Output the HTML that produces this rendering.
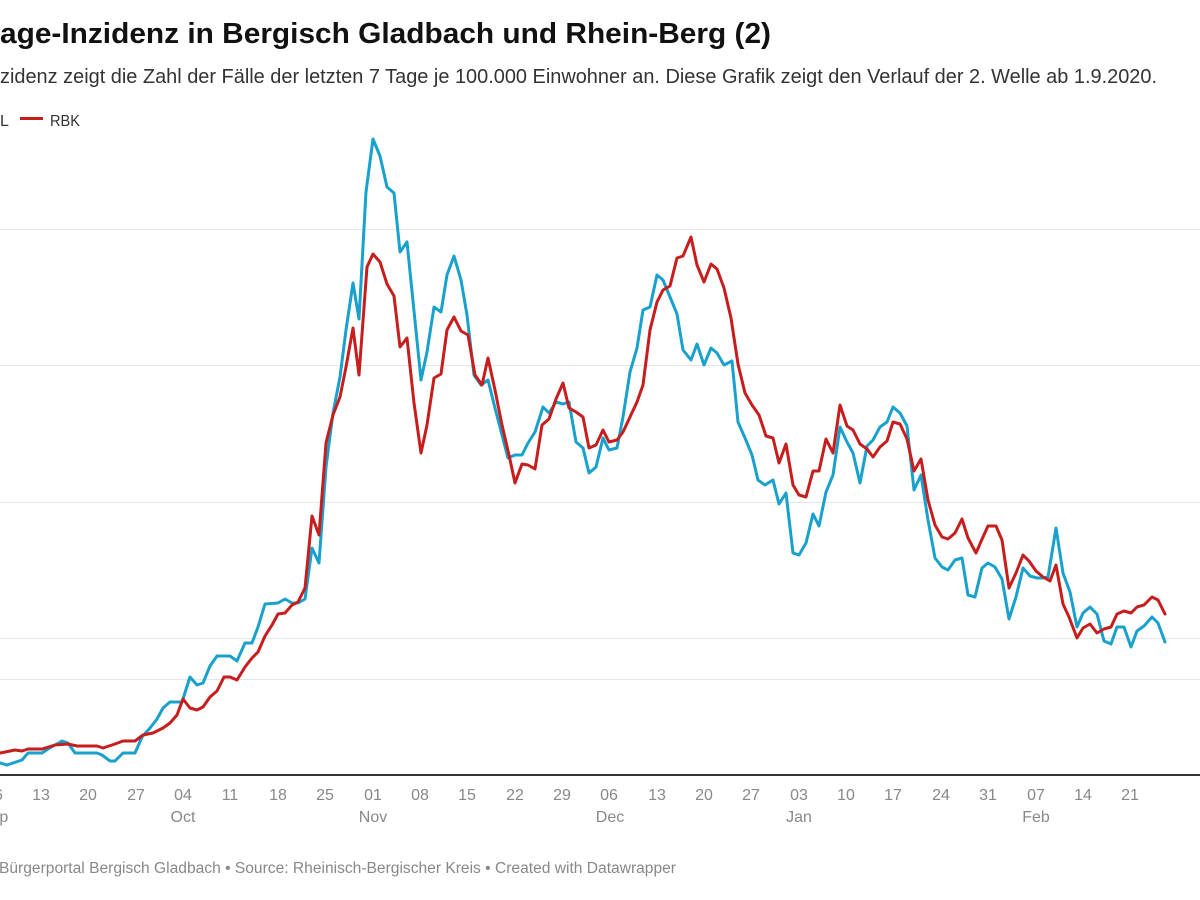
<!DOCTYPE html>
<html>
<head>
<meta charset="utf-8">
<style>
html,body{margin:0;padding:0;background:#fff;}
body{width:1200px;height:900px;overflow:hidden;}
svg{display:block;}
text{font-family:"Liberation Sans",Arial,sans-serif;}
</style>
</head>
<body>
<svg width="1200" height="900" viewBox="0 0 1200 900" xmlns="http://www.w3.org/2000/svg">
<rect x="0" y="0" width="1200" height="900" fill="#fff"/>
<!-- Title -->
<text x="0" y="43" font-size="29" font-weight="bold" fill="#111" textLength="771" lengthAdjust="spacingAndGlyphs">age-Inzidenz in Bergisch Gladbach und Rhein-Berg (2)</text>
<text x="0" y="83" font-size="20" fill="#333" textLength="1157" lengthAdjust="spacingAndGlyphs">zidenz zeigt die Zahl der Fälle der letzten 7 Tage je 100.000 Einwohner an. Diese Grafik zeigt den Verlauf der 2. Welle ab 1.9.2020.</text>
<!-- Legend -->
<text x="0" y="126" font-size="16" fill="#333">L</text>
<line x1="20" y1="118.5" x2="43" y2="118.5" stroke="#c71e1d" stroke-width="3"/>
<text x="50" y="126" font-size="16" fill="#333" textLength="30" lengthAdjust="spacingAndGlyphs">RBK</text>
<!-- Grid -->
<g stroke="#e5e5e5" stroke-width="1">
<line x1="0" y1="229.5" x2="1200" y2="229.5"/>
<line x1="0" y1="365.5" x2="1200" y2="365.5"/>
<line x1="0" y1="502.5" x2="1200" y2="502.5"/>
<line x1="0" y1="638.5" x2="1200" y2="638.5"/>
<line x1="0" y1="679.5" x2="1200" y2="679.5"/>
</g>
<!-- Series -->
<polyline fill="none" stroke="#18a1cd" stroke-width="3" stroke-linejoin="round" stroke-linecap="round" points="-7,764 0,763 7,765 22,760 28,753 42,753 48,749 62,741 68,743 75,753 97,753 102,755 110,761 115,761 123,753 135,753 142,737 150,728 157,719 163,708 170,702 182,702 190,677 197,685 203,683 210,666 217,656 230,656 237,661 245,643 252,643 258,627 265,604 278,603 285,599 292,603 298,603 305,599 312,548 319,563 326,467 333,413 340,377 346,330 353,283 359,319 366,192 373,139 380,156 387,187 394,193 400,252 407,242 414,311 421,380 427,352 434,307 441,312 447,275 454,256 461,280 467,315 474,375 481,385 488,380 495,408 502,435 508,458 515,455 522,455 528,443 535,432 543,407 549,413 556,402 563,404 569,402 576,442 583,448 589,473 596,467 603,438 609,450 617,448 623,417 630,372 637,348 643,310 650,307 657,275 663,280 670,297 677,314 683,350 691,360 697,344 704,365 711,348 717,353 724,365 732,361 738,422 745,438 752,455 758,480 765,485 773,480 779,504 786,493 793,553 799,555 806,543 813,514 819,526 826,492 833,475 840,427 847,442 853,453 860,483 867,446 873,440 880,427 887,422 893,407 900,413 907,426 914,490 921,475 928,520 935,558 942,567 948,570 955,560 962,558 968,595 975,597 982,568 988,563 995,567 1002,579 1009,619 1016,597 1023,568 1030,576 1037,578 1043,578 1048,577 1056,528 1063,573 1070,592 1077,627 1083,613 1090,607 1097,614 1104,641 1111,644 1117,627 1124,627 1131,647 1137,631 1144,626 1152,617 1158,623 1165,642"/>
<polyline fill="none" stroke="#c71e1d" stroke-width="3" stroke-linejoin="round" stroke-linecap="round" points="-7,755 0,753 15,750 22,751 28,749 42,749 55,745 68,744 77,746 97,746 103,748 115,744 123,741 135,741 143,735 153,733 163,728 170,723 177,715 183,699 190,708 197,710 203,707 210,697 217,691 224,677 230,677 237,680 245,667 252,658 258,652 265,636 272,625 278,614 285,613 292,605 298,602 305,588 312,516 319,535 326,443 333,415 340,397 346,367 353,328 359,375 367,267 373,254 380,262 387,284 394,296 400,347 407,338 414,403 421,453 427,425 434,378 441,374 447,330 454,317 461,331 468,335 475,375 482,385 488,358 495,390 502,425 509,455 515,483 522,464 528,465 535,469 542,425 549,419 556,399 563,383 569,408 576,412 583,417 589,448 596,445 603,430 609,442 617,440 623,432 630,417 637,402 643,385 650,330 657,302 663,290 670,286 677,258 683,256 691,237 697,265 704,282 711,264 717,269 724,288 731,318 738,364 745,393 752,405 759,415 766,436 773,438 779,463 786,444 793,485 799,495 806,497 813,471 819,471 826,439 833,453 840,405 847,426 853,430 860,444 867,449 873,457 880,447 887,441 893,422 900,424 907,439 914,471 921,459 928,500 935,525 942,537 948,539 955,533 962,519 968,538 976,553 983,537 988,526 996,526 1002,540 1009,588 1016,573 1023,555 1029,561 1036,571 1043,577 1050,581 1056,565 1063,604 1069,617 1077,638 1083,628 1090,624 1097,633 1104,629 1111,627 1117,614 1124,611 1131,613 1137,607 1144,605 1152,597 1158,600 1165,614"/>
<!-- Axis -->
<line x1="0" y1="775" x2="1200" y2="775" stroke="#333" stroke-width="2"/>
<g font-size="16" fill="#888" text-anchor="middle">
<text x="-6" y="800">06</text>
<text x="41" y="800">13</text>
<text x="88" y="800">20</text>
<text x="136" y="800">27</text>
<text x="183" y="800">04</text>
<text x="230" y="800">11</text>
<text x="278" y="800">18</text>
<text x="325" y="800">25</text>
<text x="373" y="800">01</text>
<text x="420" y="800">08</text>
<text x="467" y="800">15</text>
<text x="515" y="800">22</text>
<text x="562" y="800">29</text>
<text x="609" y="800">06</text>
<text x="657" y="800">13</text>
<text x="704" y="800">20</text>
<text x="751" y="800">27</text>
<text x="799" y="800">03</text>
<text x="846" y="800">10</text>
<text x="893" y="800">17</text>
<text x="941" y="800">24</text>
<text x="988" y="800">31</text>
<text x="1036" y="800">07</text>
<text x="1083" y="800">14</text>
<text x="1130" y="800">21</text>
<text x="-6" y="822">Sep</text>
<text x="183" y="822">Oct</text>
<text x="373" y="822">Nov</text>
<text x="610" y="822">Dec</text>
<text x="799" y="822">Jan</text>
<text x="1036" y="822">Feb</text>
</g>
<!-- Footer -->
<text x="-1" y="873" font-size="15.5" fill="#888" textLength="677" lengthAdjust="spacingAndGlyphs">Bürgerportal Bergisch Gladbach • Source: Rheinisch-Bergischer Kreis • Created with Datawrapper</text>
</svg>
</body>
</html>
